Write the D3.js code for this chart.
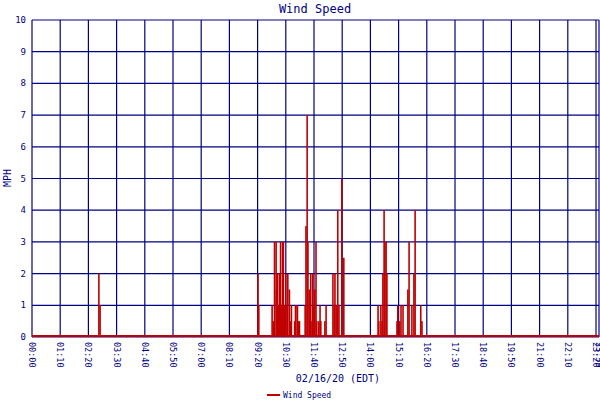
<!DOCTYPE html>
<html><head><meta charset="utf-8">
<script src="https://cdn.jsdelivr.net/npm/d3@7"></script>
<style>body{margin:0;background:#fff}text{font-family:"DejaVu Sans Mono",monospace}</style>
</head><body><div id="chart"></div>
<script>
// minutes after midnight and wind speed (mph)
const minutes = [166,169,561,563,596,599,602,606,607,609,612,614,617,619,622,624,627,630,633,635,639,642,644,652,654,655,659,661,664,678,680,683,685,688,690,692,695,697,700,702,705,707,712,715,717,727,730,747,750,752,755,759,762,769,774,859,861,866,869,871,874,876,879,881,906,908,913,916,921,933,936,943,948,951,965,968];
const speeds = [2,1,2,1,1,0.5,3,3,1.5,2,1,2,3,1,3,3,1,2,1,2,1.5,0.5,1,0.5,1,1,1,0.5,0.5,1,3.5,7,3,1.5,0.5,2,0.5,2,1,1.5,3,0.5,0.5,1,0.5,0.5,1,2,1,2,1,4,1,5,2.5,1,0.5,1,0.5,2,4,3,3,2,0.5,1,0.5,1,1,1.5,3,1,2,4,1,0.5];
const tickLabels = ["00:00","01:10","02:20","03:30","04:40","05:50","07:00","08:10","09:20","10:30","11:40","12:50","14:00","15:10","16:20","17:30","18:40","19:50","21:00","22:10","23:20","23:59"];
const tickMinutes = tickLabels.map(t => +t.slice(0,2)*60 + +t.slice(3));
const yTicks = d3.range(0, 11);

const svg = d3.select("#chart").append("svg").attr("width", 600).attr("height", 400);
const navy = "#000080", red = "#c00000";
const x = d3.scaleLinear().domain([0, 1400, 1439]).range([32, 596, 599]);
const y = d3.scaleLinear().domain([0, 10]).range([337, 20]);

// grid
svg.append("g").selectAll("line").data(tickMinutes).join("line")
  .attr("x1", d => x(d)).attr("x2", d => x(d)).attr("y1", y(10)).attr("y2", y(0))
  .attr("stroke", navy).attr("stroke-width", 1.2);
svg.append("g").selectAll("line").data(yTicks).join("line")
  .attr("x1", x(0)).attr("x2", x(1439)).attr("y1", d => y(d)).attr("y2", d => y(d))
  .attr("stroke", navy).attr("stroke-width", 1.2);

// y labels
svg.append("g").selectAll("text").data(yTicks).join("text")
  .attr("x", 26).attr("y", d => y(d) + 3).attr("text-anchor", "end")
  .attr("font-size", 9).attr("fill", navy).text(d => d);

// x labels
svg.append("g").selectAll("text").data(tickLabels).join("text")
  .attr("transform", (d, i) => `translate(${x(tickMinutes[i]) - 3},342) rotate(90)`)
  .attr("font-size", 8.5).attr("fill", navy).text(d => d);

// bars
svg.append("line").attr("x1", x(0)).attr("x2", x(1439)).attr("y1", y(0) - 1).attr("y2", y(0) - 1)
  .attr("stroke", red).attr("stroke-width", 2);
svg.append("g").selectAll("rect").data(minutes).join("rect")
  .attr("x", d => x(d) - 0.8).attr("width", 1.6)
  .attr("y", (d, i) => y(speeds[i])).attr("height", (d, i) => y(0) - y(speeds[i]))
  .attr("fill", red);

svg.append("text").attr("x", 315).attr("y", 13).attr("text-anchor", "middle")
  .attr("font-size", 12).attr("fill", navy).text("Wind Speed");
svg.append("text").attr("transform", "translate(11,178) rotate(-90)").attr("text-anchor", "middle")
  .attr("font-size", 10).attr("fill", navy).text("MPH");
svg.append("text").attr("x", 338).attr("y", 382).attr("text-anchor", "middle")
  .attr("font-size", 10).attr("fill", navy).text("02/16/20 (EDT)");
svg.append("line").attr("x1", 267).attr("x2", 280).attr("y1", 395).attr("y2", 395)
  .attr("stroke", red).attr("stroke-width", 2);
svg.append("text").attr("x", 283).attr("y", 398).attr("font-size", 8).attr("fill", navy).text("Wind Speed");
</script></body></html>
